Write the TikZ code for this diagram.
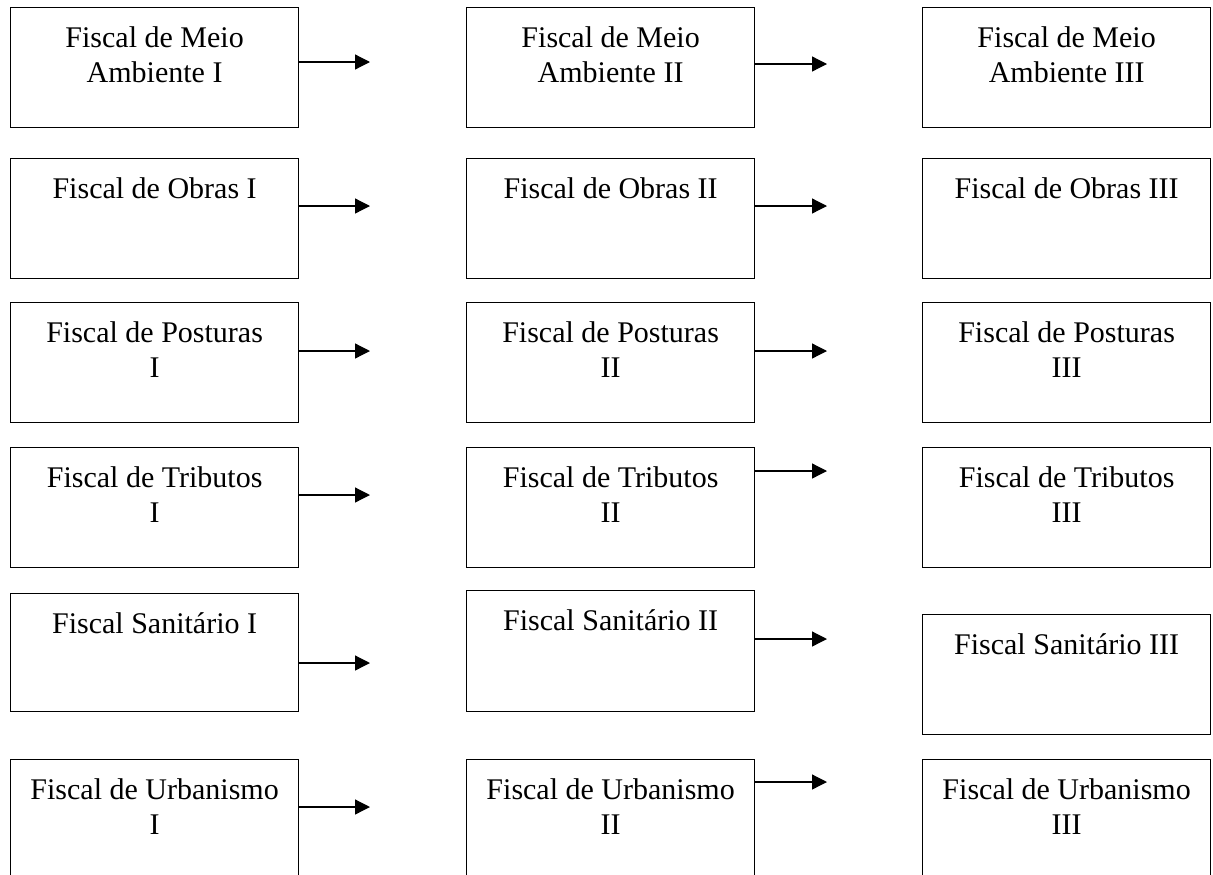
\documentclass[tikz,border=0pt]{standalone}
\usepackage{fontspec}
\setmainfont{Liberation Serif}
\usetikzlibrary{arrows.meta}
\tikzset{
  cargo/.style={draw, line width=0.5pt, minimum width=115.2pt, minimum height=48pt,
                anchor=north west, inner sep=0pt},
  nome/.style={anchor=north, align=center, inner sep=0pt, yshift=-7.6pt,
               font=\fontsize{12}{14}\selectfont},
  seta/.style={-{Triangle[length=6pt,width=6pt]}, line width=0.5pt}
}
\begin{document}
\begin{tikzpicture}[x=0.4pt,y=-0.4pt]
  \useasboundingbox (0,0) rectangle (1213,874);
  \clip (0,0) rectangle (1213,874);
  % meio ambiente
  \node[cargo, label={[nome]north:{Fiscal de Meio\\Ambiente I}}]   (amb1) at (10,7) {};
  \node[cargo, label={[nome]north:{Fiscal de Meio\\Ambiente II}}]  (amb2) at (466,7) {};
  \node[cargo, label={[nome]north:{Fiscal de Meio\\Ambiente III}}] (amb3) at (922,7) {};
  % obras
  \node[cargo, label={[nome]north:{Fiscal de Obras I}}]   (obr1) at (10,158) {};
  \node[cargo, label={[nome]north:{Fiscal de Obras II}}]  (obr2) at (466,158) {};
  \node[cargo, label={[nome]north:{Fiscal de Obras III}}] (obr3) at (922,158) {};
  % posturas
  \node[cargo, label={[nome]north:{Fiscal de Posturas\\I}}]   (pos1) at (10,302) {};
  \node[cargo, label={[nome]north:{Fiscal de Posturas\\II}}]  (pos2) at (466,302) {};
  \node[cargo, label={[nome]north:{Fiscal de Posturas\\III}}] (pos3) at (922,302) {};
  % tributos
  \node[cargo, label={[nome]north:{Fiscal de Tributos\\I}}]   (tri1) at (10,447) {};
  \node[cargo, label={[nome]north:{Fiscal de Tributos\\II}}]  (tri2) at (466,447) {};
  \node[cargo, label={[nome]north:{Fiscal de Tributos\\III}}] (tri3) at (922,447) {};
  % sanitario
  \node[cargo, minimum height=47.2pt, label={[nome]north:{Fiscal Sanitário I}}] (san1) at (10,593) {};
  \node[cargo, minimum height=48.4pt, label={[nome]north:{Fiscal Sanitário II}}] (san2) at (466,590) {};
  \node[cargo, label={[nome]north:{Fiscal Sanitário III}}] (san3) at (922,614) {};
  % urbanismo
  \node[cargo, label={[nome]north:{Fiscal de Urbanismo\\I}}]   (urb1) at (10,759) {};
  \node[cargo, label={[nome]north:{Fiscal de Urbanismo\\II}}]  (urb2) at (466,759) {};
  \node[cargo, label={[nome]north:{Fiscal de Urbanismo\\III}}] (urb3) at (922,759) {};
  % setas
  \foreach \n/\ya/\yb in {amb/62/64, obr/206/206, pos/351/351, tri/495/471, san/663/639, urb/807/782} {
    \coordinate (\n a) at (370,\ya);
    \coordinate (\n b) at (827,\yb);
    \draw[seta] (\n1.east |- \n a) -- (\n a);
    \draw[seta] (\n2.east |- \n b) -- (\n b);
  }
\end{tikzpicture}
\end{document}
